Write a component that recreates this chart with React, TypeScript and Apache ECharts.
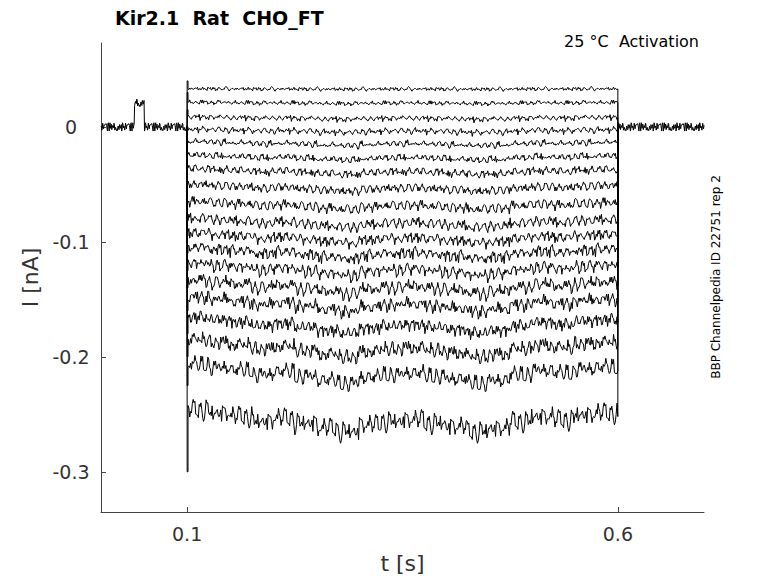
import { useEffect, useRef } from 'react'
import * as echarts from 'echarts'

// steady-state level of each sweep (nA), top to bottom
const levels = [0.033, 0.021, 0.008, -0.003, -0.014, -0.026, -0.038, -0.052, -0.067, -0.082,
  -0.095, -0.108, -0.122, -0.137, -0.152, -0.170, -0.190, -0.212, -0.252]
// peak of the onset transient of each sweep
const onset = [0.04, 0.03, 0.015, 0.0, -0.012, -0.024, -0.036, -0.05, -0.065, -0.08,
  -0.095, -0.11, -0.125, -0.14, -0.16, -0.18, -0.2, -0.225, -0.3]
// hand-read wiggle shape (normalised)
const wiggle = [0.2, -0.6, 0.9, -0.3, 0.5, -0.9, 0.1, 0.7, -0.4, 0.3, -0.8, 0.6, -0.1, 0.4, -0.7,
  0.8, -0.2, 0.0, -0.5, 0.6, 0.3, -0.9, 0.5, -0.3, 0.9, -0.6, 0.2, -0.1, 0.7, -0.8, 0.4, -0.4,
  0.1, 0.8, -0.7, 0.3, -0.2, 0.6, -0.5, 0.9, -0.3, 0.0, 0.5, -0.9, 0.2, 0.7, -0.6, 0.4, -0.1, -0.4, 0.6, -0.2, 0.3]
// slow drift of the deep sweeps (per 0.025 s from 0.1 to 0.6)
const drift = [0.4, 0.2, 0.0, -0.3, -0.1, -0.4, -0.7, -0.9, -0.5, -0.3, -0.2, -0.4,
  -0.6, -0.9, -0.7, -0.3, 0.0, -0.2, 0.1, 0.2, 0.3]
// holding current before / after the steps
const bumpFrom = 0.039
const bumpTo = 0.05
const bumpLevel = 0.021

const xTicks = [0.1, 0.6]
const yTicks = [0, -0.1, -0.2, -0.3]

function sweep(k: number) {
  const lvl = levels[k]
  const depth = -lvl + 0.04
  const amp = 0.002 + depth * 0.025
  const pts: number[][] = [[0.1, 0], [0.1, onset[k]], [0.101, onset[k]]]
  for (let i = 1; i < 500; i++) {
    const t = 0.1 + i * 0.001
    const d = drift[Math.floor((t - 0.1) / 0.025)]
    const w = wiggle[(i * 13 + k * 11) % wiggle.length] * 0.7 + wiggle[(i * 29 + k * 5) % wiggle.length] * 0.5
    pts.push([t, lvl + w * amp + d * depth * 0.05])
  }
  pts.push([0.6, lvl], [0.6, 0])
  return pts
}

function holding(from: number, to: number, off: number) {
  const pts: number[][] = []
  for (let i = 0; from + i * 0.0005 <= to + 1e-9; i++) {
    const t = from + i * 0.0005
    const v = t >= bumpFrom && t <= bumpTo ? bumpLevel : 0
    pts.push([t, v + wiggle[(i * 17 + off) % wiggle.length] * 0.004])
  }
  return pts
}

export default function App() {
  const ref = useRef<HTMLDivElement>(null)
  useEffect(() => {
    if (!ref.current) return
    const chart = echarts.init(ref.current, null, { renderer: 'svg' })
    const font = 'DejaVu Sans'
    const series: any[] = [
      { type: 'line', data: holding(0, 0.1, 0), showSymbol: false, lineStyle: { color: '#000', width: 1 } },
      { type: 'line', data: holding(0.6, 0.7, 5), showSymbol: false, lineStyle: { color: '#000', width: 1 } },
      ...levels.map((_, k) => ({
        type: 'line', data: sweep(k), showSymbol: false, lineStyle: { color: '#000', width: 1 },
      })),
    ]
    chart.setOption({
      animation: false,
      textStyle: { fontFamily: font },
      grid: { left: 93, right: 66, top: 35, bottom: 63, containLabel: false, outerBoundsMode: 'none' },
      title: [
        { text: 'Kir2.1  Rat  CHO_FT', left: 102, top: -5, textStyle: { fontSize: 19, fontWeight: 'bold', color: '#000', fontFamily: font } },
        { text: '25 °C  Activation', right: 66, top: 20, textStyle: { fontSize: 16, fontWeight: 'normal', color: '#000', fontFamily: font } },
      ],
      graphic: [{
        type: 'text', x: 708, y: 269, rotation: Math.PI / 2,
        style: { text: 'BBP Channelpedia ID 22751 rep 2', fontSize: 12, fill: '#000', fontFamily: font, align: 'center', verticalAlign: 'middle' },
      }],
      xAxis: {
        type: 'value', min: 0, max: 0.7, name: 't [s]', nameLocation: 'middle', nameGap: 40,
        nameTextStyle: { fontSize: 22, color: '#333' },
        axisLine: { onZero: false, lineStyle: { color: '#444' } },
        axisTick: { inside: true, customValues: xTicks, lineStyle: { color: '#444' } },
        axisLabel: { customValues: xTicks, fontSize: 19, color: '#333', margin: 12 },
        splitLine: { show: false },
      },
      yAxis: {
        type: 'value', min: -0.335, max: 0.073, name: 'I [nA]', nameLocation: 'middle', nameGap: 55,
        nameTextStyle: { fontSize: 22, color: '#333' },
        axisLine: { show: true, lineStyle: { color: '#444' } },
        axisTick: { show: true, inside: true, customValues: yTicks, lineStyle: { color: '#444' } },
        axisLabel: { customValues: yTicks, fontSize: 19, color: '#333', margin: 30, align: 'center', formatter: (v: number) => (v === 0 ? '0' : String(+v.toFixed(1))) },
        splitLine: { show: false },
      },
      series,
    })
    return () => chart.dispose()
  }, [])
  return <div ref={ref} style={{ width: 762, height: 567 }} />
}
